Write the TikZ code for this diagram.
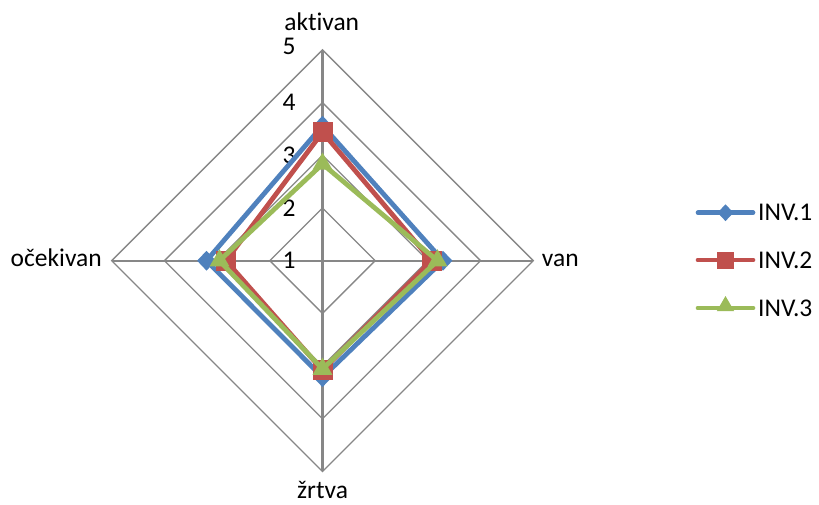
\documentclass[tikz,border=0pt]{standalone}
\usepackage{fontspec}
\setmainfont{Carlito}[Ligatures=NoCommon]
\usetikzlibrary{shapes.geometric}
\definecolor{serA}{HTML}{4F81BD}
\definecolor{serB}{HTML}{C0504D}
\definecolor{serC}{HTML}{9BBB59}
\definecolor{gridc}{HTML}{878787}
\begin{document}
\begin{tikzpicture}[x=1pt,y=-1pt,
 lbl/.style={font=\fontsize{25.5}{30}\selectfont, inner sep=0pt, text=black},
 ring/.style={draw=gridc, line width=1.3pt},
 spoke/.style={draw=gridc, line width=2.2pt},
 serline/.style={draw=#1, line width=4.8pt, line join=miter},
 legline/.style={draw=#1, line width=4.7pt, line cap=round},
 dmark/.style={diamond, fill=#1, inner sep=0pt, minimum width=19pt, minimum height=20pt},
 smark/.style={rectangle, fill=#1, inner sep=0pt, minimum size=20pt},
 tmark/.style={regular polygon, regular polygon sides=3, fill=#1, inner sep=0pt, minimum size=23pt},
 ldmark/.style={diamond, fill=#1, inner sep=0pt, minimum width=16pt, minimum height=17pt},
 lsmark/.style={rectangle, fill=#1, inner sep=0pt, minimum size=17pt},
 ltmark/.style={regular polygon, regular polygon sides=3, fill=#1, inner sep=0pt, minimum size=20pt},
]
\useasboundingbox (0,0) rectangle (819,505);
% centre and axis ends
\coordinate (c) at (322.5,260.7);
\coordinate (top) at (322.5,50);
\coordinate (rgt) at (533.2,260.7);
\coordinate (bot) at (322.5,471.4);
\coordinate (lft) at (111.8,260.7);
% rings
\foreach \k in {1,...,4}{
  \pgfmathsetmacro{\r}{52.7*\k}
  \draw[ring] (322.5,{260.7-\r}) -- ({322.5+\r},260.7) -- (322.5,{260.7+\r}) -- ({322.5-\r},260.7) -- cycle;
}
% spokes
\draw[spoke] (c) -- (top);
\draw[spoke] (c) -- (rgt);
\draw[spoke] (c) -- (bot);
\draw[spoke] (c) -- (lft);
% category labels
\node[lbl, anchor=base] (lA) at (321.7,31) {aktivan};
\node[lbl, anchor=base west] (lB) at (541.7,266.7) {van};
\node[lbl, anchor=base] (lC) at (322.5,498) {žrtva};
\node[lbl, anchor=base east] (lD) at (102,266.7) {očekivan};
% value labels
\node[lbl] (v5) at (289,46) {5};
\node[lbl] (v4) at (289,102.6) {4};
\node[lbl] (v3) at (289,155.3) {3};
\node[lbl] (v2) at (289,208.5) {2};
\node[lbl] (v1) at (289,260.7) {1};
% series points
\coordinate (a1) at (322.5,125.7);
\coordinate (a2) at (443,260.7);
\coordinate (a3) at (322.5,377.2);
\coordinate (a4) at (206.5,260.7);
\coordinate (b1) at (322.5,132.2);
\coordinate (b2) at (431.5,260.7);
\coordinate (b3) at (322.5,370.2);
\coordinate (b4) at (226,260.7);
\coordinate (g1) at (322.5,164);
\coordinate (g2) at (437.5,260.7);
\coordinate (g3) at (322.5,369);
\coordinate (g4) at (219.5,260.7);
% series INV.1
\draw[serline=serA] (a1) -- (a2) -- (a3) -- (a4) -- cycle;
\foreach \p in {a1,a2,a3,a4} \node[dmark=serA] at (\p) {};
% series INV.2
\draw[serline=serB] (b1) -- (b2) -- (b3) -- (b4) -- cycle;
\foreach \p in {b1,b2,b3,b4} \node[smark=serB] at (\p) {};
% series INV.3
\draw[serline=serC] (g1) -- (g2) -- (g3) -- (g4) -- cycle;
\foreach \p in {g1,g2,g3,g4} \node[tmark=serC] at (\p) {};
% legend
\coordinate (k1s) at (698,212.7); \coordinate (k1e) at (753,212.7);
\coordinate (k2s) at (698,260); \coordinate (k2e) at (753,260);
\coordinate (k3s) at (698,308); \coordinate (k3e) at (753,308);
\draw[legline=serA] (k1s) -- (k1e);
\node[ldmark=serA] (m1) at (725.5,212.7) {};
\node[lbl, anchor=west] (t1) at (758,212.7) {INV.1};
\draw[legline=serB] (k2s) -- (k2e);
\node[lsmark=serB] (m2) at (725.5,260) {};
\node[lbl, anchor=west] (t2) at (758,260) {INV.2};
\draw[legline=serC] (k3s) -- (k3e);
\node[ltmark=serC] (m3) at (725.5,306) {};
\node[lbl, anchor=west] (t3) at (758,308) {INV.3};
\end{tikzpicture}
\end{document}
